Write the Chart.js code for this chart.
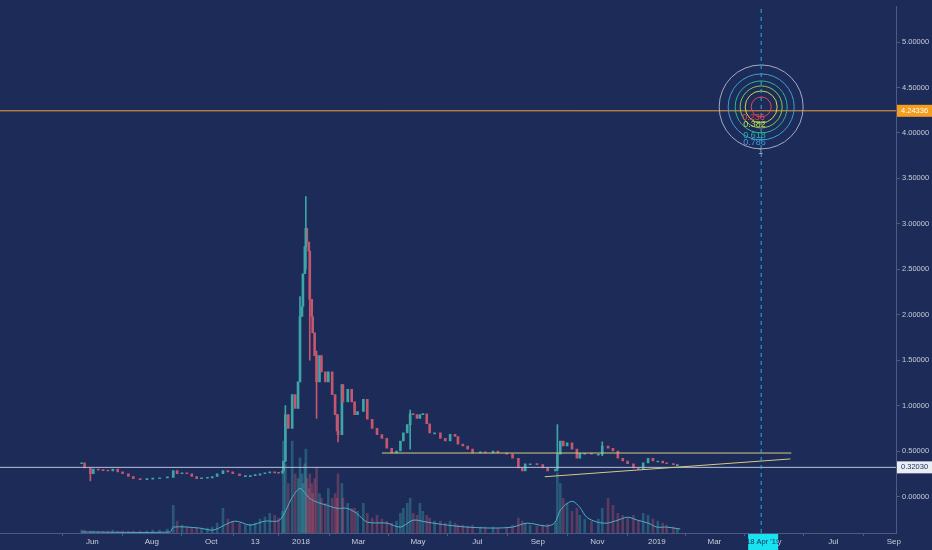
<!DOCTYPE html>
<html><head><meta charset="utf-8">
<script src="https://cdn.jsdelivr.net/npm/chart.js@4/dist/chart.umd.min.js"></script>
<style>html,body{margin:0;padding:0;background:#1c2b58;}#wrap{width:932px;height:550px;position:relative;}</style>
</head><body><div id="wrap"><canvas id="c"></canvas></div>
<script>
// Day numbers relative to 1 Jan 2018
const candleDays = [
 -225,-222,-216,-213,-208,-203,-198,-193,-188,-183,
 -177,-172,-165,-158,-152,-145,-137,-131,-127,-122,
 -117,-112,-107,-102,-96,-91,-86,-80,-75,-70,
 -63,-57,-52,-47,-42,-37,-32,-27,-23,-19,
 -18,-16,-13,-9,-6,-3,-1,1,2,4,
 5,6,8,9,11,12,14,16,19,21,
 25,28,32,35,37,38,42,43,48,52,
 55,58,64,68,73,78,83,88,93,98,
 102,105,109,112,115,119,122,125,129,132,
 137,143,148,153,158,161,166,171,176,184,
 189,197,202,211,217,223,227,230,235,242,
 248,253,261,263,266,269,273,278,283,286,
 291,298,305,309,315,320,325,330,335,341,
 346,351,356,361,366,371,375,382,386];
const candleCloses = [
 0.37,0.315,0.25,0.30,0.29,0.285,0.28,0.30,0.27,0.25,
 0.22,0.195,0.185,0.19,0.195,0.205,0.21,0.285,0.25,0.255,
 0.25,0.22,0.195,0.20,0.205,0.22,0.25,0.285,0.27,0.25,
 0.23,0.23,0.23,0.235,0.25,0.26,0.265,0.26,0.255,0.28,
 0.39,0.90,0.75,1.12,0.97,1.26,1.98,2.09,2.45,2.75,
 2.95,2.80,2.70,2.17,1.98,1.80,1.55,1.26,1.55,1.37,
 1.26,1.37,1.12,0.90,0.72,0.68,1.23,1.04,1.18,1.04,
 0.90,0.935,1.07,0.85,0.75,0.68,0.64,0.53,0.48,0.50,
 0.61,0.70,0.79,0.91,0.90,0.86,0.90,0.91,0.80,0.70,
 0.70,0.64,0.61,0.685,0.66,0.575,0.555,0.52,0.48,0.49,
 0.48,0.50,0.48,0.465,0.42,0.315,0.28,0.36,0.36,0.35,
 0.315,0.28,0.30,0.465,0.61,0.555,0.59,0.52,0.42,0.475,
 0.475,0.465,0.465,0.555,0.53,0.50,0.42,0.39,0.36,0.315,
 0.30,0.37,0.42,0.39,0.39,0.37,0.36,0.35,0.35];
const firstOpen = 0.36;
const volumes = [
 3,3,2,2,2,2,2,3,2,2,
 2,2,2,2,3,3,4,28,12,8,
 6,5,5,4,5,6,10,25,14,12,
 10,8,9,10,14,16,20,18,15,22,
 93,70,50,93,60,55,76,60,50,70,
 85,55,45,60,50,40,55,66,40,35,
 30,45,35,40,35,60,50,35,30,25,
 25,22,30,20,15,18,14,12,10,12,
 20,25,30,35,20,18,30,22,18,15,
 12,12,10,12,10,8,8,7,8,6,
 6,6,5,6,8,15,12,10,8,7,
 8,9,10,61,50,35,30,22,25,18,
 14,12,14,25,35,28,20,18,15,18,
 12,20,18,14,12,10,8,6,4];
const wickDays  = [-216,-16,-1,5,9,16,38,112,263,309];
const wickHighs = [0.30,1.00,2.20,3.30,2.30,1.60,0.90,0.95,0.79,0.60];
const wickLows  = [0.17,0.38,1.30,2.50,1.50,0.86,0.60,0.52,0.28,0.45];
const volMaDays = [-225,-134,-131,-104,-90,-68,-52,-37,-22,-9,-1,9,17,27,37,47,57,68,88,102,115,129,150,170,197,217,232,252,260,266,273,279,286,293,304,314,325,335,345,356,365,375,389];
const volMaValues = [1,1,6,5,3,12,8,12,13,36,45,35,31,28,25,25,20,11,10,6,13,11,8,6,5,6,10,7,10,23,30,32,26,16,11,10,13,16,13,10,6,6,4];
const tickDays   = [-214,-153,-92,-47,0,59,120,181,243,304,365,424,485,546,608];
const tickLabels = ['Jun','Aug','Oct','13','2018','Mar','May','Jul','Sep','Nov','2019','Mar','May','Jul','Sep'];
const yTickValues = [0,0.5,1,1.5,2,2.5,3,3.5,4,4.5,5];
const resistanceDays = [83,503];
const resistanceValues = [0.478,0.478];
const trendDays = [250,502];
const trendValues = [0.217,0.413];
const orangeLevel = 4.24336;
const whiteLevel = 0.32030;
const markerDay = 472;
const markerLabel = "18 Apr '19";
const fibCenterDay = 472;
const fibCenterValue = 4.286;
const fibLevels = ['0.236','0.382','0.5','0.618','0.786','1'];

const X_MIN=-308.7, X_MAX=610.3, Y_MIN=-0.402, Y_MAX=5.391;
const UP='#3ea5a7', DOWN='#c4566e';
const UPV='rgba(62,165,167,0.38)', DOWNV='rgba(196,86,110,0.38)';
const fibRadii=[10,16,21,26,33,42];
const fibColors=['#e4484f','#c9d64a','#7ccc5c','#2fb39e','#3ea0d8','#a2acc8'];

const opens = candleCloses.map((c,i)=> i===0 ? firstOpen : candleCloses[i-1]);
const isUp = candleCloses.map((c,i)=> c>=opens[i]);
const bodyData = candleDays.map((d,i)=>({x:d,y:[opens[i],candleCloses[i]]}));
const wickData = wickDays.map((d,i)=>({x:d,y:[wickLows[i],wickHighs[i]]}));
const wickColors = wickDays.map(d=>{const k=candleDays.indexOf(d);return isUp[k]?UP:DOWN;});
const volData = candleDays.map((d,i)=>({x:d,y:volumes[i]}));

const overlay = {
  id:'overlay',
  afterDraw(chart){
    const ctx=chart.ctx, xs=chart.scales.x, ys=chart.scales.y;
    const cx=xs.getPixelForValue(fibCenterDay), cy=ys.getPixelForValue(fibCenterValue);
    ctx.save();
    ctx.font='9px "Liberation Sans", Arial, sans-serif';
    ctx.textBaseline='middle'; ctx.textAlign='left';
    const lab=[[0,-19,11],[1,-18,18],[3,-18,29],[4,-18,36],[5,-3,45]];
    lab.forEach(([k,dx,dy])=>{ctx.fillStyle=fibColors[k];ctx.fillText(fibLevels[k],cx+dx,cy+dy);});
    ctx.font='7.5px "Liberation Sans", Arial, sans-serif';
    const ax=xs.right+1;
    let py=ys.getPixelForValue(orangeLevel);
    ctx.fillStyle='#f59d1c'; ctx.fillRect(ax,py-6,35,12);
    ctx.fillStyle='#ffffff'; ctx.fillText(orangeLevel.toFixed(5),ax+4,py);
    py=ys.getPixelForValue(whiteLevel);
    ctx.fillStyle='#e8eef4'; ctx.fillRect(ax,py-6,35,12);
    ctx.fillStyle='#1c2b58'; ctx.fillText(whiteLevel.toFixed(5),ax+4,py);
    const mx=xs.getPixelForValue(markerDay);
    ctx.fillStyle='#19e3f0'; ctx.fillRect(mx-13,ys.bottom+1,30,16);
    ctx.fillStyle='#1c2b58'; ctx.textAlign='center'; ctx.fillText(markerLabel,mx+2,ys.bottom+9);
    ctx.restore();
  }
};

new Chart(document.getElementById('c'),{
  type:'bar',
  data:{datasets:[
    {type:'line',order:1,data:[{x:markerDay,y:Y_MIN},{x:markerDay,y:Y_MAX}],borderColor:'#2bb0dc',borderWidth:1,borderDash:[4,4],pointRadius:0},
    {type:'line',order:2,showLine:false,clip:false,data:fibRadii.map(()=>({x:fibCenterDay,y:fibCenterValue})),pointRadius:fibRadii,pointHoverRadius:fibRadii,pointBackgroundColor:'rgba(0,0,0,0)',pointBorderColor:fibColors,pointBorderWidth:1},
    {type:'line',order:3,data:[{x:X_MIN,y:orangeLevel},{x:X_MAX,y:orangeLevel}],borderColor:'#f0a032',borderWidth:1,pointRadius:0},
    {type:'line',order:4,data:resistanceDays.map((d,i)=>({x:d,y:resistanceValues[i]})),borderColor:'#d6cb7e',borderWidth:1,pointRadius:0},
    {type:'line',order:5,data:trendDays.map((d,i)=>({x:d,y:trendValues[i]})),borderColor:'#d6cb7e',borderWidth:1,pointRadius:0},
    {type:'line',order:6,data:[{x:X_MIN,y:whiteLevel},{x:X_MAX,y:whiteLevel}],borderColor:'#b9c3dc',borderWidth:1,pointRadius:0},
    {type:'bar',order:7,data:wickData,backgroundColor:wickColors,barThickness:1,grouped:false},
    {type:'bar',order:8,data:bodyData,backgroundColor:isUp.map(u=>u?UP:DOWN),barThickness:2,minBarLength:1,grouped:false},
    {type:'line',order:9,yAxisID:'yVol',data:volMaDays.map((d,i)=>({x:d,y:volMaValues[i]})),borderColor:'#4fb0c4',borderWidth:1,pointRadius:0,tension:0.3},
    {type:'bar',order:10,yAxisID:'yVol',data:volData,backgroundColor:isUp.map(u=>u?UPV:DOWNV),barThickness:2,grouped:false}
  ]},
  options:{
    responsive:true,maintainAspectRatio:false,animation:false,devicePixelRatio:1,
    layout:{padding:0,autoPadding:false},
    plugins:{legend:{display:false},tooltip:{enabled:false}},
    scales:{
      x:{type:'linear',position:'bottom',min:X_MIN,max:X_MAX,offset:false,
        afterBuildTicks:s=>{s.ticks=tickDays.map(v=>({value:v}));},
        afterFit:s=>{s.height=17;},
        grid:{drawOnChartArea:false,drawTicks:true,tickLength:3,color:'#4c5a84'},
        border:{color:'#4c5a84'},
        ticks:{autoSkip:false,maxRotation:0,padding:1,color:'#c9ceda',font:{size:8,family:'"Liberation Sans", Arial, sans-serif'},
          callback:v=>{const k=tickDays.indexOf(v);return k>=0?tickLabels[k]:'';}}
      },
      y:{type:'linear',position:'right',min:Y_MIN,max:Y_MAX,
        afterBuildTicks:s=>{s.ticks=yTickValues.map(v=>({value:v}));},
        afterFit:s=>{s.width=36;},
        grid:{drawOnChartArea:false,drawTicks:true,tickLength:4,color:'#4c5a84'},
        border:{color:'#4c5a84'},
        ticks:{padding:2,color:'#c9ceda',font:{size:7.5,family:'"Liberation Sans", Arial, sans-serif'},callback:v=>Number(v).toFixed(5)}
      },
      yVol:{type:'linear',display:false,min:0,max:533}
    }
  },
  plugins:[overlay]
});
</script></body></html>
